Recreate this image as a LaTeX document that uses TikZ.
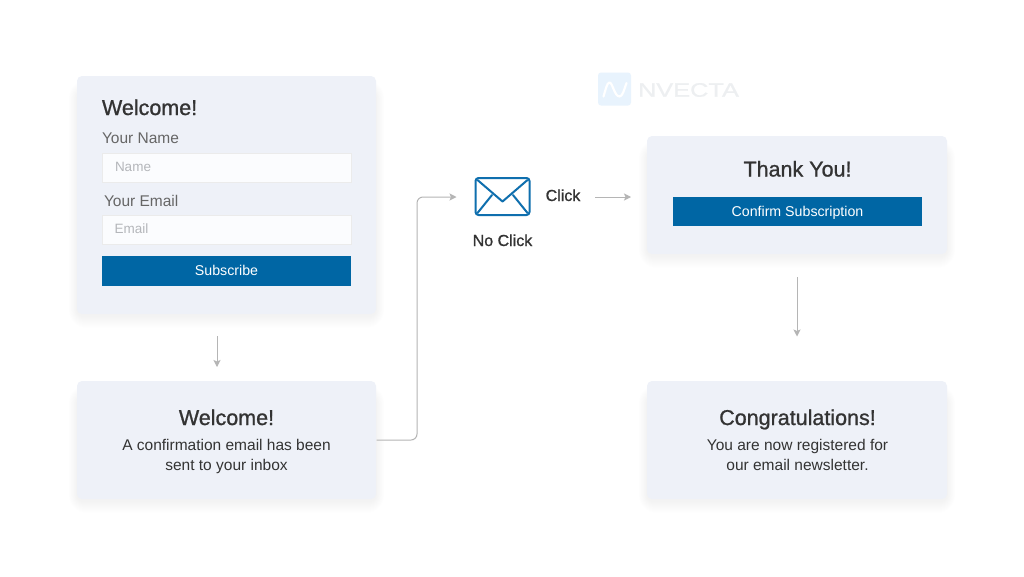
\documentclass[tikz,border=0pt]{standalone}
\usepackage{fontspec}
\setmainfont{Liberation Sans}
\newfontfamily\medfont[FakeBold=1.0]{Liberation Sans}
\newfontfamily\semifont[FakeBold=0.6]{Liberation Sans}
\usetikzlibrary{arrows.meta,calc}
\definecolor{cardbg}{HTML}{EEF1F8}
\definecolor{btn}{HTML}{0066A4}
\definecolor{env}{HTML}{0F6FAE}
\definecolor{ink}{HTML}{333333}
\definecolor{mid}{HTML}{666666}
\definecolor{hint}{HTML}{B4B6BA}
\definecolor{conn}{HTML}{B5B5B5}
\definecolor{logobg}{HTML}{E8F3FD}
\definecolor{logotx}{HTML}{EDEFF1}
\definecolor{fieldbg}{HTML}{FBFCFE}
\newcommand{\softshadow}[4]{%
  \foreach \g in {1,2,...,12}{
    \pgfmathsetmacro{\rr}{6+\g}
    \fill[black,opacity=0.0035,rounded corners=\rr pt]
      (#1-\g*0.7,#2+16-\g) rectangle (#3+\g*0.7,#4+\g+2);
  }}
\tikzset{
  x=1pt,y=-1pt,
  every node/.style={inner sep=0pt,outer sep=0pt,font=\fontsize{16}{19}\selectfont,text=ink},
  cardbox/.style={fill=cardbg,rounded corners=5pt,minimum width=300pt,anchor=north west},
  fieldbox/.style={fill=fieldbg,draw=black!8,line width=1pt,minimum width=249pt,minimum height=29pt,anchor=north west},
  btnbox/.style={fill=btn,minimum width=249pt,minimum height=29.5pt,anchor=north west,text=white,font=\fontsize{14.2}{17}\selectfont,text height=12.5pt,text depth=3pt},
  title/.style={font=\fontsize{21.5}{25}\medfont,text=ink,text height=18pt,text depth=4pt},
  formlabel/.style={font=\fontsize{15.5}{19}\selectfont,text=mid,anchor=west},
  hinttext/.style={font=\fontsize{13.5}{16}\selectfont,text=hint,anchor=west},
  body/.style={font=\fontsize{15.5}{20}\selectfont,text=ink,align=center,text depth=0pt},
  clabel/.style={font=\fontsize{16}{19}\medfont,text=ink,text height=13.5pt,text depth=3.5pt},
  conn/.style={draw=conn,line width=1pt,-{Stealth[length=7pt,width=7pt,inset=1.5pt]}},
  envline/.style={draw=env,line width=2pt,line join=round,line cap=round},
}
\begin{document}
\begin{tikzpicture}
\useasboundingbox (0,0) rectangle (1024,576);
\fill[white] (0,0) rectangle (1024,576);
% logo
\node[fill=logobg,rounded corners=3pt,minimum width=33pt,minimum height=33pt] (logo) at (614.5,89) {};
\draw[white,line width=2.2pt,line cap=round,line join=round] (603.5,96.5) .. controls (605.5,90) and (607,82.5) .. (609.5,82.5) .. controls (612.5,82.5) and (614.5,96.5) .. (619.5,96.5) .. controls (622.5,96.5) and (624,90) .. (626.5,83);
\node[anchor=west,font=\fontsize{19.5}{22}\semifont,text=logotx,xscale=1.3] (logotext) at (638,90) {NVECTA};
% cards
\softshadow{77}{76}{376}{314}
\node[cardbox,minimum height=238pt,minimum width=299pt] (card1) at (77,76) {};
\softshadow{77}{381}{376}{499}
\node[cardbox,minimum height=118pt,minimum width=299pt] (card2) at (77,381) {};
\softshadow{647}{136}{947}{254}
\node[cardbox,minimum height=118pt] (card3) at (647,136) {};
\softshadow{647}{381}{947}{499}
\node[cardbox,minimum height=118pt] (card4) at (647,381) {};
% form card
\node[title,anchor=west] (t1) at (102,108) {Welcome!};
\node[formlabel] (lname) at (102,138) {Your Name};
\node[fieldbox] (fname) at (102,153) {};
\node[hinttext] (hname) at (115,167) {Name};
\node[formlabel] (lmail) at (104,200.5) {Your Email};
\node[fieldbox] (fmail) at (102,215) {};
\node[hinttext] (hmail) at (114.5,229) {Email};
\node[btnbox] (sub) at (102,256) {Subscribe};
% card 2
\node[title] (t2) at (226.5,418) {Welcome!};
\node[body] (b2) at (226.5,455) {A confirmation email has been\\sent to your inbox};
% card 3
\node[title] (t3) at (797.5,169.5) {Thank You!};
\node[btnbox] (conf) at (673,196.5) {Confirm Subscription};
% card 4
\node[title] (t4) at (797.5,418) {Congratulations!};
\node[body] (b4) at (797.5,455) {You are now registered for\\our email newsletter.};
% envelope
\node[draw=env,line width=2pt,rounded corners=3pt,minimum width=54pt,minimum height=37pt] (mail) at (502.5,196.5) {};
\coordinate (flap) at (502.5,201.5);
\draw[envline] ($(mail.north west)+(2,2)$) -- (flap) -- ($(mail.north east)+(-2,2)$);
\draw[envline] ($(mail.south west)+(2,-2)$) -- (492,195);
\draw[envline] ($(mail.south east)+(-2,-2)$) -- (513,195);
\node[clabel] (click) at (563,196) {Click};
\node[clabel] (noclick) at (502.5,241) {No Click};
% connectors
\coordinate (a1s) at (217,336);
\coordinate (a1e) at (217,367);
\coordinate (a2s) at (376.5,440);
\coordinate (a2e) at (456.5,197);
\coordinate (a3s) at (595,197);
\coordinate (a3e) at (631,197);
\coordinate (a4s) at (797,277);
\coordinate (a4e) at (797,336.5);
\draw[conn] (a1s) -- (a1e);
\draw[conn,rounded corners=6pt] (a2s) -| (417,197) -- (a2e);
\draw[conn] (a3s) -- (a3e);
\draw[conn] (a4s) -- (a4e);
\end{tikzpicture}
\end{document}
